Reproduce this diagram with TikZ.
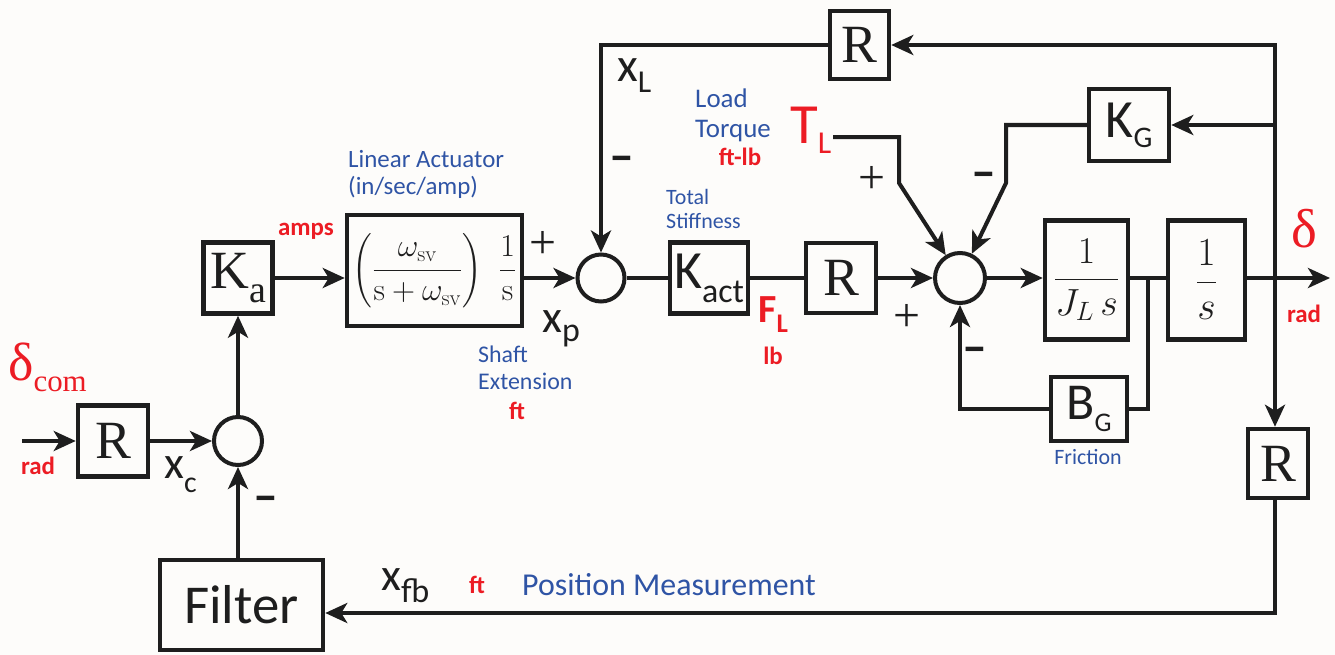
\RequirePackage{fix-cm}
\documentclass[tikz,border=0pt]{standalone}
\usepackage{amsmath}
\usepackage{fontspec}
\usetikzlibrary{arrows.meta}
\newfontfamily\serif{Liberation Serif}
\newfontfamily\calib{Carlito}
\definecolor{lc}{RGB}{30,30,30}
\definecolor{redtxt}{RGB}{236,28,36}
\definecolor{bluetxt}{RGB}{47,84,165}
\definecolor{bgc}{RGB}{253,252,250}
\newcommand\fs[1]{\fontsize{#1}{#1}\selectfont}
\begin{document}
\begin{tikzpicture}[x=1bp,y=-1bp,
  ln/.style={line width=4bp, draw=lc},
  arr/.style={ln, -{Stealth[length=22bp,width=20bp,inset=6bp]}},
  blk/.style={draw=lc, line width=4.5bp, inner sep=0pt, text=lc, font=\serif\fs{54}},
  sblk/.style={blk, font=\calib\fs{54}},
  sumj/.style={circle, draw=lc, line width=4bp, inner sep=0pt},
  bluet/.style={text=bluetxt, inner sep=0pt},
  redt/.style={text=redtxt, inner sep=0pt, font=\calib\bfseries\fs{25}},
  plus/.style={text=lc, inner sep=0pt, font=\serif\fs{48}},
  minus/.style={text=lc, inner sep=0pt, font=\calib\bfseries\fs{50}},
  sym/.style={text=lc, inner sep=0pt, anchor=base west, font=\calib}
]
\fill[bgc] (0,0) rectangle (1335,655);
\useasboundingbox (0,0) rectangle (1335,655);

% ---------- blocks ----------
\node[blk, minimum width=70bp, minimum height=71bp] (rin) at (113,441) {R};
\node[sumj, minimum size=48bp] (s1) at (238,441) {};
\node[blk, minimum width=69bp, minimum height=71bp] (ka) at (238,278) {K\fs{38}\raisebox{-14bp}{a}};
\node[blk, minimum width=175bp, minimum height=111bp, font=\fs{32}] (act) at (434.5,270.5)
  {$\displaystyle\left(\frac{\omega_{\mathrm{sv}}}{\mathrm{s}+\omega_{\mathrm{sv}}}\right)\hspace{12bp}\frac{1}{\mathrm{s}}$};
\node[sumj, minimum size=47bp] (s2) at (601,278) {};
\node[sblk, minimum width=78bp, minimum height=71bp] (kact) at (709,278) {K\fs{34}\raisebox{-14bp}{act}};
\node[blk, minimum width=70bp, minimum height=70bp] (rmid) at (841,278) {R};
\node[sumj, minimum size=50bp] (s3) at (960,278) {};
\node[blk, minimum width=83bp, minimum height=119bp, font=\fs{38}] (jl) at (1086.5,280) {$\dfrac{1}{J_L\, s}$};
\node[blk, minimum width=77bp, minimum height=119bp, font=\fs{40}] (int) at (1206.5,280) {$\dfrac{1}{s}$};
\node[blk, minimum width=59bp, minimum height=68bp] (rtop) at (859.5,45) {R};
\node[sblk, minimum width=80bp, minimum height=72bp] (kg) at (1129,125) {K\fs{30}\raisebox{-10bp}{G}};
\node[sblk, minimum width=76bp, minimum height=64bp, font=\calib\fs{52}] (bg) at (1089,409) {B\fs{27}\raisebox{-12bp}{G}};
\node[blk, minimum width=60bp, minimum height=69bp] (rr) at (1278,463.5) {R};
\node[sblk, minimum width=163bp, minimum height=90bp, font=\calib\fs{55}] (filt) at (241.5,605) {Filter};

% ---------- connectors ----------
\coordinate (inL) at (22,441);
\draw[arr] (inL) -- (rin.west);
\draw[arr] (rin.east) -- (s1.west);
\draw[arr] (filt.north -| s1) -- (s1.south);
\draw[arr] (s1.north) -- (ka.south);
\draw[arr] (ka.east) -- (ka.east -| act.west);
\draw[arr] (act.east |- s2) -- (s2.west);
\draw[ln] (s2.east) -- (kact.west);
\draw[ln] (kact.east) -- (rmid.west);
\draw[arr] (rmid.east) -- (s3.west);
\draw[arr] (s3.east) -- (s3.east -| jl.west);
\draw[ln] (jl.east |- s3) -- (int.west |- s3);
\coordinate (out) at (1330,278);
\draw[arr] (int.east |- s3) -- (out);
\coordinate (tapR) at (1275,278);
\draw[arr] (tapR) |- (rtop.east);
\draw[arr] (tapR |- kg) -- (kg.east);
\draw[arr] (tapR) -- (tapR |- rr.north);
\draw[arr] (rtop.west) -| (s2.north);
\coordinate (kgb) at (1006,183);
\draw[arr] (kg.west) -| (kgb) -- (s3.64);
\coordinate (tls) at (833,137);
\coordinate (tlb) at (899,183);
\draw[arr] (tls) -| (tlb) -- (s3.122);
\coordinate (tapB) at (1148,278);
\draw[ln] (tapB) |- (bg.east);
\draw[arr] (bg.west) -| (s3.south);
\coordinate (fbk) at (1275,613);
\draw[arr] (rr.south -| tapR) -- (fbk) -- (fbk -| filt.east);

% ---------- labels ----------
\node[text=redtxt, inner sep=0pt, anchor=base west, font=\serif] (dcom) at (8,380) {\fs{54}δ\fs{31}\raisebox{-11bp}{com}};
\node[redt] (radin) at (38,466) {rad};
\node[sym] (xc) at (164,478) {\fs{46}x\fs{30}\raisebox{-14bp}{c}};
\node[minus] (m1) at (266,504) {–};
\node[redt] (amps) at (306,231) {amps};
\node[bluet, anchor=north west, align=left, font=\calib\fontsize{25}{27}\selectfont] (lact) at (348,150) {Linear Actuator\\(in/sec/amp)};
\node[plus] (p2) at (543,245) {+};
\node[sym] (xp) at (542,332) {\fs{46}x\fs{34}\raisebox{-9bp}{p}};
\node[sym] (xl) at (617,82) {\fs{48}x\fs{32}\raisebox{-11bp}{L}};
\node[minus] (m2) at (622,164) {–};
\node[bluet, anchor=north west, align=left, font=\calib\fontsize{24}{27}\selectfont] (shaft) at (478,346) {Shaft\\Extension};
\node[redt] (ftshaft) at (517,411) {ft};
\node[bluet, anchor=north west, align=left, font=\calib\fontsize{22}{24}\selectfont] (stiff) at (666,189) {Total\\Stiffness};
\node[sym, text=redtxt, font=\calib\bfseries] (fl) at (758,322) {\fs{40}F\fs{27}\raisebox{-10bp}{L}};
\node[redt] (lb) at (773,356) {lb};
\node[bluet, anchor=north west, align=left, font=\calib\fontsize{27}{30}\selectfont] (load) at (695,89) {Load\\Torque};
\node[redt] (ftlb) at (740,157) {ft-lb};
\node[sym, text=redtxt] (tl) at (790,143) {\fs{57}T\fs{32}\raisebox{-10bp}{L}};
\node[plus] (p3a) at (872,180) {+};
\node[minus] (m3a) at (984,180) {–};
\node[plus] (p3b) at (907,318) {+};
\node[minus] (m3b) at (975,355) {–};
\node[bluet, font=\calib\fs{22}] (fric) at (1088,457) {Friction};
\node[text=redtxt, inner sep=0pt, font=\serif\fs{55}] (delta) at (1304,229) {δ};
\node[redt] (radout) at (1304,314) {rad};
\node[sym] (xfb) at (381,590) {\fs{46}x\fs{34}\raisebox{-12bp}{fb}};
\node[redt] (ftfb) at (477,585) {ft};
\node[bluet, anchor=west, font=\calib\fs{32}] (pos) at (522,585) {Position Measurement};
\end{tikzpicture}
\end{document}
